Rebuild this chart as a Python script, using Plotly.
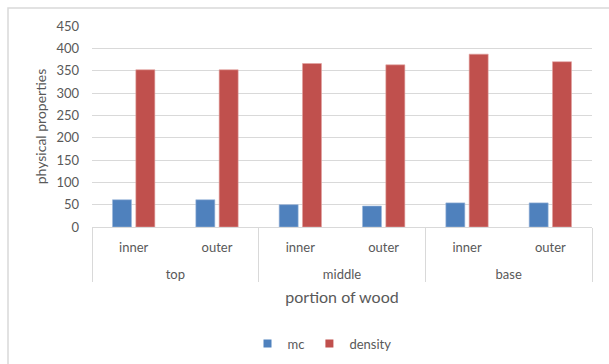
import plotly.graph_objects as go

# Wood portions (outer level) and radial positions (inner level)
portions = ["top", "top", "middle", "middle", "base", "base"]
positions = ["inner", "outer", "inner", "outer", "inner", "outer"]

# Physical properties per sample
mc = [61, 61, 50, 47, 54, 54]
density = [352, 352, 366, 363, 387, 370]

y_ticks = [0, 50, 100, 150, 200, 250, 300, 350, 400, 450]

FONT = "Lato, 'Open Sans', sans-serif"
TEXT = "#595959"
GRID = "#D9D9D9"
MC_COLOR = "#4F81BD"
DENSITY_COLOR = "#C0504D"

# Outer-level labels sit one line lower, below the inner labels
group_labels = ["<br>" + p for p in portions]
x_levels = [group_labels, positions]

fig = go.Figure()
fig.add_trace(go.Bar(
    x=x_levels, y=mc, name="mc", showlegend=False,
    marker=dict(color=MC_COLOR, line=dict(color="#9DB8DC", width=0.6)),
))
fig.add_trace(go.Bar(
    x=x_levels, y=density, name="density", showlegend=False,
    marker=dict(color=DENSITY_COLOR, line=dict(color="#E2A3A1", width=0.6)),
))

# Small square legend keys
for name, color in (("mc", MC_COLOR), ("density", DENSITY_COLOR)):
    fig.add_trace(go.Scatter(
        x=[None], y=[None], mode="markers", name=name,
        marker=dict(symbol="square", size=8, color=color),
    ))

fig.update_layout(
    width=609, height=364,
    margin=dict(l=92, r=17, t=26, b=137, autoexpand=False),
    paper_bgcolor="white", plot_bgcolor="white",
    font=dict(family=FONT, size=13, color=TEXT),
    barmode="group", bargap=0.44, bargroupgap=0.185,
    showlegend=True,
    legend=dict(orientation="h", x=0.46, xanchor="center", y=-0.58, yanchor="middle",
                font=dict(size=13, color=TEXT), itemwidth=30, traceorder="normal"),
    xaxis=dict(
        type="multicategory", automargin=False,
        showline=True, linecolor=GRID, linewidth=1,
        showdividers=True, dividercolor=GRID, dividerwidth=1,
        tickfont=dict(size=13, color=TEXT),
        ticks="outside", ticklen=11, tickcolor="rgba(0,0,0,0)",
        ticklabelstandoff=8,
        showgrid=False,
        title=dict(text="portion of wood", font=dict(size=16, color=TEXT), standoff=11),
    ),
    yaxis=dict(
        range=[0, 450], tickvals=y_ticks, automargin=False,
        showgrid=True, gridcolor=GRID, gridwidth=1,
        zeroline=False, showline=False, ticks="",
        ticklabelstandoff=12,
        tickfont=dict(size=13, color=TEXT),
        title=dict(text="physical properties", font=dict(size=14, color=TEXT), standoff=6),
    ),
)

# Chart frame
fig.add_shape(type="rect", xref="paper", yref="paper",
              x0=-0.168, x1=1.2, y0=-1.2, y1=1.09,
              line=dict(color="#D9D9D9", width=1.5), fillcolor="rgba(0,0,0,0)", layer="below")

fig.write_html("out.html")
